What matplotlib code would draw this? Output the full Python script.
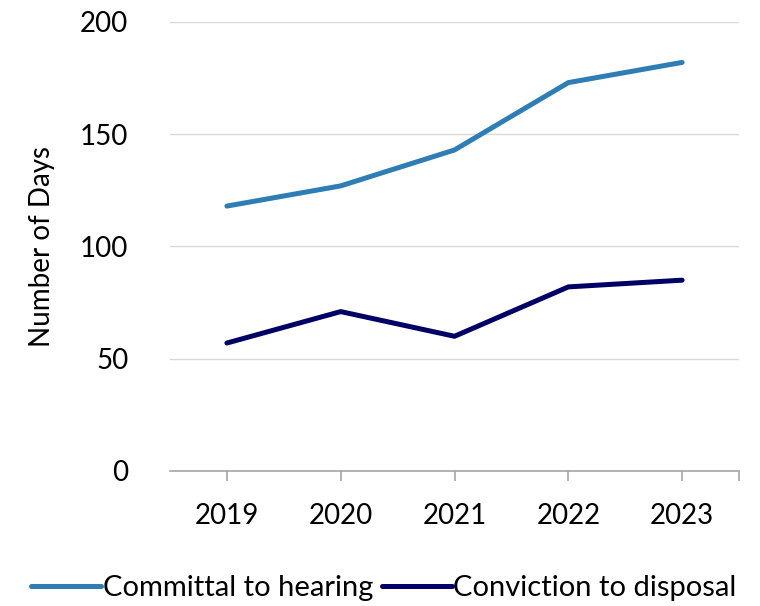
import matplotlib.pyplot as plt

plt.rcParams['font.family'] = ['Lato', 'DejaVu Sans']

years = ['2019', '2020', '2021', '2022', '2023']
committal = [118, 127, 143, 173, 182]
conviction = [57, 71, 60, 82, 85]
yticks = [0, 50, 100, 150, 200]

fig = plt.figure(figsize=(7.6, 6.06), dpi=100)
ax = fig.add_axes([0.2237, 0.2228, 0.7487, 0.7409])

x = range(len(years))
ax.plot(x, committal, color='#2E7DB5', lw=3.6, solid_capstyle='round',
        label='Committal to hearing')
ax.plot(x, conviction, color='#000066', lw=3.6, solid_capstyle='round',
        label='Conviction to disposal')

ax.set_xlim(-0.5, len(years) - 0.5)
ax.set_ylim(0, 200)
ax.set_xticks(list(x))
ax.set_xticklabels(years)
ax.set_xticks([len(years) - 0.5], minor=True)
ax.set_yticks(yticks)
ax.yaxis.grid(True, color='#D9D9D9', lw=1)
ax.set_axisbelow(True)

for s in ['top', 'right', 'left']:
    ax.spines[s].set_visible(False)
ax.spines['bottom'].set_color('#A6A6A6')
ax.spines['bottom'].set_linewidth(1.2)
ax.tick_params(axis='x', which='both', length=7, width=1.2, color='#A6A6A6',
               labelsize=20, pad=16)
ax.tick_params(axis='y', length=0, labelsize=20, pad=30)
ax.set_ylabel('Number of Days', fontsize=20, labelpad=18)

fig.legend(loc='lower center', bbox_to_anchor=(0.505, -0.035), ncol=2,
           frameon=False, fontsize=21, handlelength=2.4, handletextpad=0.05,
           columnspacing=0.3)

fig.savefig('out.png', dpi=100)
